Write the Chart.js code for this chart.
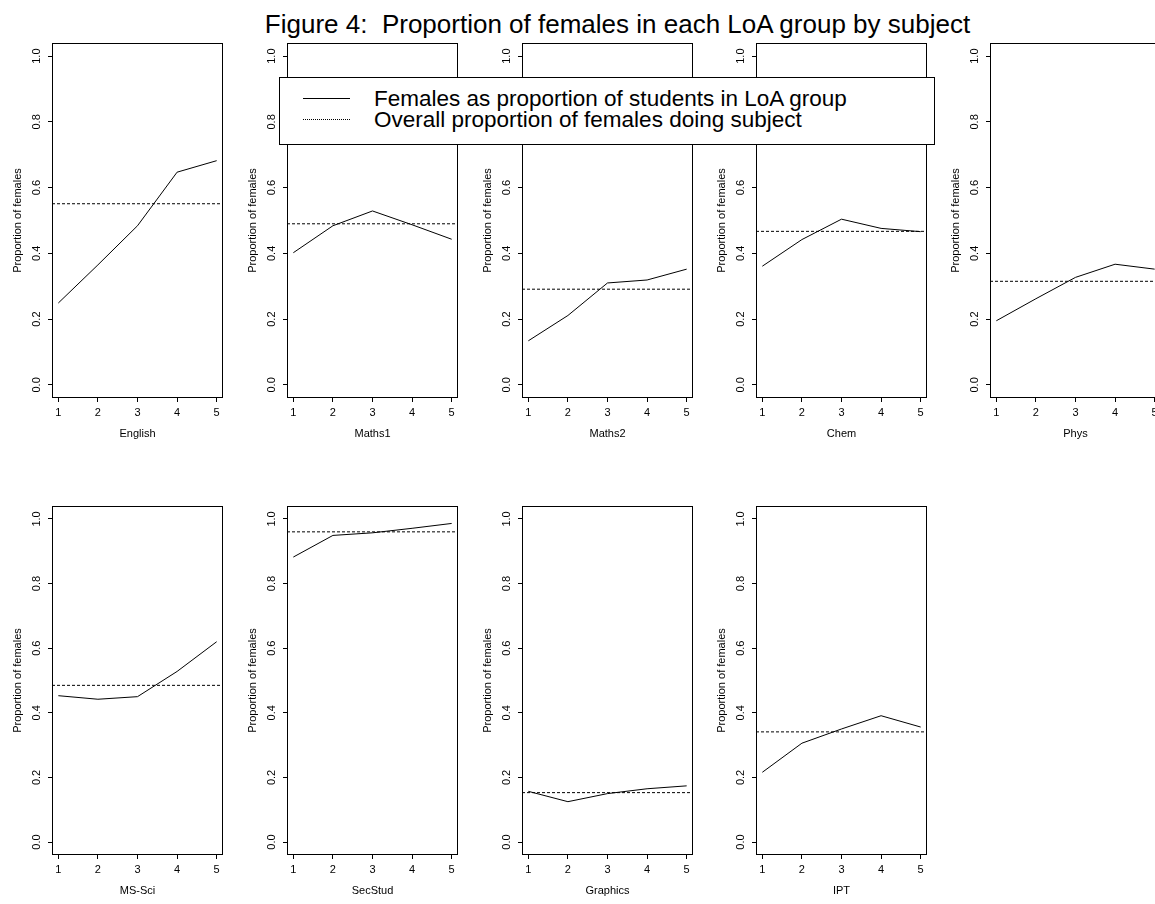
<!DOCTYPE html>
<html>
<head>
<meta charset="utf-8">
<script src="https://cdn.jsdelivr.net/npm/chart.js@4.4.1/dist/chart.umd.min.js"></script>
<style>
    html, body { margin: 0; padding: 0; background: #fff; overflow: hidden; }
    body { width: 1155px; height: 904px; position: relative; font-family: "Liberation Sans", Arial, sans-serif; }
    canvas { position: absolute; }
    #title { position: absolute; left: 0; width: 1235px; top: 11px; text-align: center; font-size: 26px; line-height: 26px; color: #000; white-space: pre; }
    #legend { position: absolute; left: 279px; top: 77px; width: 654px; height: 66px; background: #fff; border: 1px solid #000; z-index: 5; }
    .key { position: absolute; left: 23px; width: 47px; height: 0; }
    .key.solid { top: 20px; border-top: 1px solid #000; }
    .key.dotted { top: 41px; border-top: 1px dotted #000; }
    .label { position: absolute; left: 94px; font-size: 22.5px; line-height: 21px; color: #000; white-space: nowrap; }
</style>
</head>
<body>
<div id="title">Figure 4:  Proportion of females in each LoA group by subject</div>
<div id="legend">
    <div class="key solid"></div>
    <div class="label" style="top: 10px;">Females as proportion of students in LoA group</div>
    <div class="key dotted"></div>
    <div class="label" style="top: 31px;">Overall proportion of females doing subject</div>
</div>

<script>
// LoA groups on the x axis of every panel
const loaGroups = [1, 2, 3, 4, 5];
const subjects = ["English", "Maths1", "Maths2", "Chem", "Phys", "MS-Sci", "SecStud", "Graphics", "IPT"];

// females as proportion of students in each LoA group
const english  = [0.249, 0.365, 0.484, 0.647, 0.682];
const maths1   = [0.402, 0.484, 0.529, 0.487, 0.443];
const maths2   = [0.134, 0.211, 0.310, 0.319, 0.352];
const chem     = [0.361, 0.442, 0.504, 0.476, 0.466];
const phys     = [0.195, 0.262, 0.327, 0.367, 0.352];
const msSci    = [0.453, 0.442, 0.450, 0.528, 0.620];
const secStud  = [0.882, 0.949, 0.957, 0.971, 0.986];
const graphics = [0.157, 0.125, 0.150, 0.165, 0.174];
const ipt      = [0.216, 0.306, 0.350, 0.391, 0.356];

// overall proportion of females doing each subject
const overall = [0.551, 0.490, 0.291, 0.467, 0.315, 0.485, 0.960, 0.153, 0.341];

const yTicks = [0, 0.2, 0.4, 0.6, 0.8, 1.0];
const xRange = [0.84, 5.16];
const yRange = [-0.04, 1.04];

const shares = [english, maths1, maths2, chem, phys, msSci, secStud, graphics, ipt];

Chart.defaults.color = "#000";
Chart.defaults.font.family = '"Liberation Sans", Arial, sans-serif';
Chart.defaults.font.size = 11;

// panel boxes as in the original 2 x 5 layout
const colLeft = [52, 287, 522, 756, 990];
const rows = [
    { boxTop: 43, boxBottom: 398 },
    { boxTop: 506, boxBottom: 855 }
];
const boxWidth = 171;
const yAxisWidth = 52;
const xAxisHeight = 50;
const padTop = 10;

const frameBox = {
    id: "frameBox",
    afterDraw(chart) {
        const { ctx, chartArea: a } = chart;
        ctx.save();
        ctx.strokeStyle = "#000";
        ctx.lineWidth = 1;
        ctx.strokeRect(Math.round(a.left) + 0.5, Math.round(a.top) + 0.5,
            Math.round(a.right - a.left) - 1, Math.round(a.bottom - a.top) - 1);
        ctx.restore();
    }
};

function makePanel(i) {
    const row = rows[Math.floor(i / 5)];
    const left = colLeft[i % 5];
    const boxH = row.boxBottom - row.boxTop;

    const canvas = document.createElement("canvas");
    canvas.width = yAxisWidth + boxWidth + 12;
    canvas.height = padTop + boxH + xAxisHeight;
    canvas.style.left = (left - yAxisWidth) + "px";
    canvas.style.top = (row.boxTop - padTop) + "px";
    document.body.appendChild(canvas);

    new Chart(canvas.getContext("2d"), {
        type: "line",
        data: {
            datasets: [{
                label: "Females as proportion of students in LoA group",
                data: loaGroups.map((g, k) => ({ x: g, y: shares[i][k] })),
                borderColor: "#000",
                borderWidth: 1,
                pointRadius: 0,
                tension: 0
            }, {
                label: "Overall proportion of females doing subject",
                data: [{ x: xRange[0], y: overall[i] }, { x: xRange[1], y: overall[i] }],
                borderColor: "#000",
                borderWidth: 1,
                borderDash: [3, 2],
                pointRadius: 0
            }]
        },
        options: {
            responsive: false,
            animation: false,
            devicePixelRatio: 1,
            layout: { padding: { top: padTop, right: 12, left: 0, bottom: 0 } },
            plugins: { legend: { display: false }, tooltip: { enabled: false } },
            scales: {
                x: {
                    type: "linear",
                    min: xRange[0],
                    max: xRange[1],
                    afterBuildTicks: s => { s.ticks = loaGroups.map(v => ({ value: v })); },
                    afterFit: s => { s.height = xAxisHeight; },
                    ticks: { autoSkip: false, maxRotation: 0, padding: 4, callback: v => String(v) },
                    grid: { drawOnChartArea: false, drawTicks: true, tickLength: 4, color: "#000" },
                    border: { display: false },
                    title: { display: true, text: subjects[i], padding: { top: 0, bottom: 7 } }
                },
                y: {
                    min: yRange[0],
                    max: yRange[1],
                    afterBuildTicks: s => { s.ticks = yTicks.map(v => ({ value: v })); },
                    afterFit: s => { s.width = yAxisWidth; },
                    ticks: { autoSkip: false, minRotation: 90, maxRotation: 90, crossAlign: "center", padding: 3,
                        callback: v => v.toFixed(1) },
                    grid: { drawOnChartArea: false, drawTicks: true, tickLength: 4, color: "#000" },
                    border: { display: false },
                    title: { display: true, text: "Proportion of females", padding: { top: 11, bottom: 0 } }
                }
            }
        },
        plugins: [frameBox]
    });
}

subjects.forEach((s, i) => makePanel(i));
</script>
</body>
</html>
